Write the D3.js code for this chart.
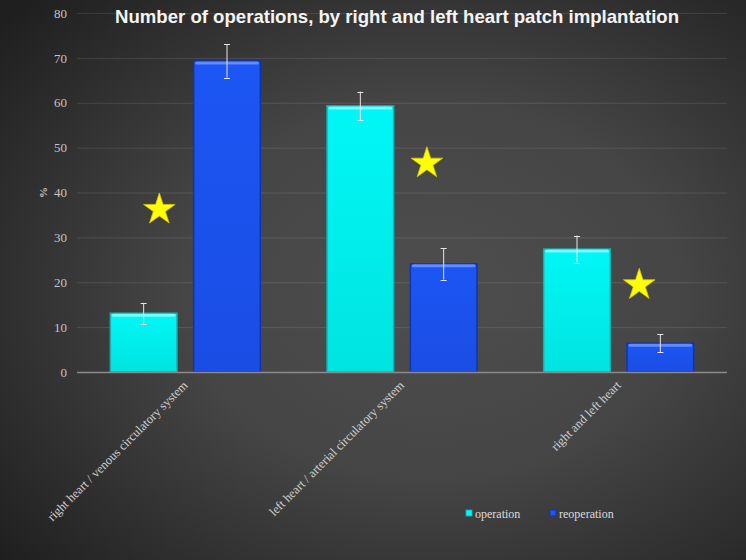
<!DOCTYPE html>
<html>
<head>
<meta charset="utf-8">
<script src="https://cdn.jsdelivr.net/npm/d3@7"></script>
<style>
  body { margin: 0; background: #2a2a2a; }
  svg { display: block; }
</style>
</head>
<body>
<div id="chart"></div>
<script>
// data
var categories = ['right heart / venous circulatory system', 'left heart / arterial circulatory system', 'right and left heart'];
var seriesNames = ['operation', 'reoperation'];
var operation = [13.1, 59.3, 27.4];
var reoperation = [69.3, 24.1, 6.4];
var operationErr = [2.3, 3.2, 3.0];
var reoperationErr = [3.7, 3.5, 2.0];
var starValues = [36.2, 46.5, 19.4];
var starSlot = [0.38, 0.615, 0.595];   // where the star sits across the category band
var yTicks = [0, 10, 20, 30, 40, 50, 60, 70, 80];

var W = 746, H = 560;
var margin = {top: 13, right: 19, bottom: 188, left: 77};

var svg = d3.select('#chart').append('svg')
    .attr('width', W)
    .attr('height', H);

var defs = svg.append('defs');

// background
var bg = defs.append('radialGradient')
    .attr('id', 'bg')
    .attr('cx', '58%').attr('cy', '52%').attr('r', '75%');
bg.append('stop').attr('offset', '0%').attr('stop-color', '#4e4e4e');
bg.append('stop').attr('offset', '45%').attr('stop-color', '#454545');
bg.append('stop').attr('offset', '100%').attr('stop-color', '#1f1f1f');

svg.append('rect')
    .attr('width', W).attr('height', H)
    .attr('fill', 'url(#bg)');

// bar fills
var fills = {
    operation: {top: '#8afefe', main: '#00f7f7', bottom: '#00e4e0', stroke: '#17aeb0'},
    reoperation: {top: '#6f95ff', main: '#1c56f4', bottom: '#1a4de4', stroke: '#0f34b0'}
};
Object.keys(fills).forEach(function(k) {
    var g = defs.append('linearGradient')
        .attr('id', 'grad-' + k)
        .attr('x1', 0).attr('y1', 0).attr('x2', 0).attr('y2', 1);
    g.append('stop').attr('offset', '0%').attr('stop-color', fills[k].main);
    g.append('stop').attr('offset', '100%').attr('stop-color', fills[k].bottom);
});

var x0 = d3.scaleBand()
    .domain(categories)
    .range([margin.left, W - margin.right]);

var x1 = d3.scaleBand()
    .domain(seriesNames)
    .range([0, x0.bandwidth()])
    .paddingInner(0.2)
    .paddingOuter(0.4);

var y = d3.scaleLinear()
    .domain([0, 80])
    .range([H - margin.bottom, margin.top]);

// grid
svg.append('g')
    .selectAll('line')
    .data(yTicks.slice(1))
    .enter()
    .append('line')
    .attr('x1', margin.left)
    .attr('x2', W - margin.right)
    .attr('y1', function(d) { return y(d) + 0.5; })
    .attr('y2', function(d) { return y(d) + 0.5; })
    .style('stroke', 'rgba(255,255,255,0.11)')
    .style('stroke-width', 1);

// y axis labels
var yAxis = d3.axisLeft(y)
    .tickValues(yTicks)
    .tickSize(0)
    .tickPadding(10);

var yg = svg.append('g')
    .attr('transform', 'translate(' + margin.left + ',0)')
    .call(yAxis);
yg.select('.domain').remove();
yg.selectAll('text')
    .attr('font-family', '"Liberation Serif", "Times New Roman", serif')
    .attr('font-size', '13px')
    .attr('fill', '#c4c4c4');

svg.append('text')
    .attr('transform', 'translate(47,' + y(40) + ') rotate(-90)')
    .attr('text-anchor', 'middle')
    .attr('font-family', '"Liberation Serif", "Times New Roman", serif')
    .attr('font-size', '11px')
    .attr('font-weight', 'bold')
    .attr('fill', '#c4c4c4')
    .text('%');

// bars
var rows = categories.map(function(c, i) {
    return [
        {cat: c, key: 'operation', value: operation[i], err: operationErr[i]},
        {cat: c, key: 'reoperation', value: reoperation[i], err: reoperationErr[i]}
    ];
});

var groups = svg.append('g')
    .selectAll('g')
    .data(rows)
    .enter()
    .append('g')
    .attr('transform', function(d, i) { return 'translate(' + x0(categories[i]) + ',0)'; });

var bars = groups.selectAll('g.bar')
    .data(function(d) { return d; })
    .enter()
    .append('g')
    .attr('class', 'bar');

bars.append('rect')
    .attr('x', function(d) { return x1(d.key); })
    .attr('y', function(d) { return y(d.value); })
    .attr('width', x1.bandwidth())
    .attr('height', function(d) { return y(0) - y(d.value); })
    .style('fill', function(d) { return 'url(#grad-' + d.key + ')'; })
    .style('stroke', function(d) { return fills[d.key].stroke; })
    .style('stroke-width', 1.5);

// bevel highlight at top
bars.append('rect')
    .attr('x', function(d) { return x1(d.key) + 1.5; })
    .attr('y', function(d) { return y(d.value) + 0.5; })
    .attr('width', x1.bandwidth() - 3)
    .attr('height', 3)
    .attr('rx', 1.5)
    .style('fill', function(d) { return fills[d.key].top; })
    .style('opacity', 0.85);

// error bars
var eb = bars.append('g')
    .style('stroke', '#e6e6e6')
    .style('stroke-width', 1);

eb.append('line')
    .attr('x1', function(d) { return x1(d.key) + x1.bandwidth() / 2; })
    .attr('x2', function(d) { return x1(d.key) + x1.bandwidth() / 2; })
    .attr('y1', function(d) { return y(d.value + d.err); })
    .attr('y2', function(d) { return y(d.value - d.err); });

eb.selectAll('line.cap')
    .data(function(d) { return [d.value + d.err, d.value - d.err].map(function(v) { return {key: d.key, v: v}; }); })
    .enter()
    .append('line')
    .attr('class', 'cap')
    .attr('x1', function(d) { return x1(d.key) + x1.bandwidth() / 2 - 3; })
    .attr('x2', function(d) { return x1(d.key) + x1.bandwidth() / 2 + 3; })
    .attr('y1', function(d) { return Math.round(y(d.v)) + 0.5; })
    .attr('y2', function(d) { return Math.round(y(d.v)) + 0.5; });

// baseline
svg.append('line')
    .attr('x1', margin.left)
    .attr('x2', W - margin.right)
    .attr('y1', y(0) + 0.5)
    .attr('y2', y(0) + 0.5)
    .style('stroke', '#8a8a8a')
    .style('stroke-width', 1.5);

// stars
var star = d3.symbol().type(d3.symbolStar).size(310);
svg.append('g')
    .selectAll('path')
    .data(starValues)
    .enter()
    .append('path')
    .attr('d', star)
    .attr('transform', function(d, i) {
        return 'translate(' + (x0(categories[i]) + x0.bandwidth() * starSlot[i]) + ',' + y(d) + ')';
    })
    .style('fill', '#ffff00')
    .style('stroke', '#d8c800')
    .style('stroke-width', 0.8);

// x labels
svg.append('g')
    .selectAll('text')
    .data(categories)
    .enter()
    .append('text')
    .attr('transform', function(d) {
        return 'translate(' + (x0(d) + x0.bandwidth() / 2 + 3) + ',' + (y(0) + 14) + ') rotate(-45)';
    })
    .attr('text-anchor', 'end')
    .attr('font-family', '"Liberation Serif", "Times New Roman", serif')
    .attr('font-size', '12.5px')
    .attr('fill', '#d2d2d2')
    .text(function(d) { return d; });

// title
svg.append('text')
    .attr('x', 397)
    .attr('y', 23)
    .attr('text-anchor', 'middle')
    .attr('font-family', '"Liberation Sans", Arial, sans-serif')
    .attr('font-weight', 'bold')
    .attr('font-size', '18.6px')
    .attr('fill', '#f4f4f4')
    .text('Number of operations, by right and left heart patch implantation');

// legend
var legendX = [466, 550];
var legend = svg.append('g')
    .selectAll('g')
    .data(seriesNames)
    .enter()
    .append('g')
    .attr('transform', function(d, i) { return 'translate(' + legendX[i] + ',510)'; });

legend.append('rect')
    .attr('width', 6)
    .attr('height', 6)
    .style('fill', function(d) { return fills[d].main; })
    .style('stroke', function(d) { return fills[d].stroke; })
    .style('stroke-width', 0.8);

legend.append('text')
    .attr('x', 9)
    .attr('y', 8)
    .attr('font-family', '"Liberation Serif", "Times New Roman", serif')
    .attr('font-size', '12px')
    .attr('fill', '#dcdcdc')
    .text(function(d) { return d; });
</script>
</body>
</html>
